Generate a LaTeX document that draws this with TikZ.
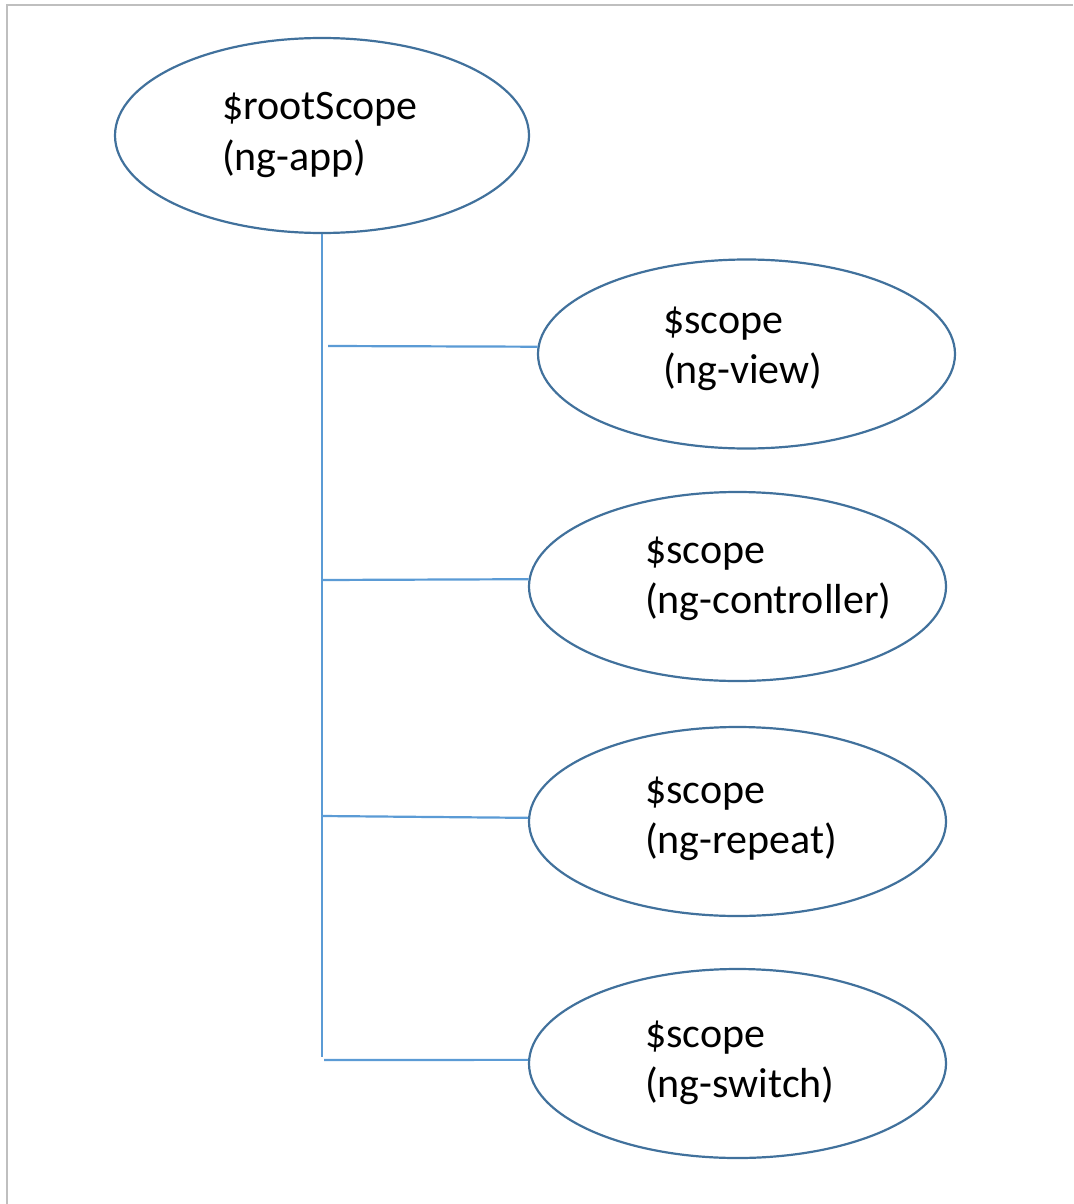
\documentclass[tikz,border=0pt]{standalone}
\usepackage{fontspec}
\setmainfont{Carlito}
\usetikzlibrary{shapes.geometric}
\definecolor{ellline}{HTML}{41719C}
\definecolor{conline}{HTML}{5B9BD5}
\definecolor{frameline}{HTML}{BFBFBF}
\tikzset{
  scopenode/.style={ellipse, draw=ellline, line width=2.2pt, inner sep=0pt,
    minimum width=417pt, minimum height=189pt},
  lbl/.style={anchor=base west, inner sep=0pt, font=\fontsize{42}{50}\selectfont},
  conn/.style={draw=conline, line width=2.2pt}
}
\begin{document}
\begin{tikzpicture}[x=1pt, y=-1pt]
\useasboundingbox (0,0) rectangle (1073,1204);
% frame on the top and left edges
\draw[frameline, line width=2pt] (7,1204) -- (7,5) -- (1073,5);

% scopes
\node[scopenode, minimum width=414pt, minimum height=195pt] (root) at (322,135.5) {};
\node[scopenode] (view) at (746.5,354) {};
\node[scopenode] (ctrl) at (737.5,586.5) {};
\node[scopenode] (rep) at (737.5,821.5) {};
\node[scopenode] (sw) at (737.5,1063.5) {};

% labels
\node[lbl] (t0a) at (222,120) {\$rootScope};
\node[lbl] (t0b) at (222,170) {(ng-app)};
\node[lbl] (t1a) at (663,333) {\$scope};
\node[lbl] (t1b) at (663,383) {(ng-view)};
\node[lbl] (t2a) at (645,563) {\$scope};
\node[lbl] (t2b) at (645,613) {(ng-controller)};
\node[lbl] (t3a) at (645,803) {\$scope};
\node[lbl] (t3b) at (645,853) {(ng-repeat)};
\node[lbl] (t4a) at (645,1047) {\$scope};
\node[lbl] (t4b) at (645,1097) {(ng-switch)};

% tree connectors
\coordinate (trunkend) at (322,1057);
\coordinate (j1) at (328,346);
\coordinate (j2) at (322,580);
\coordinate (j3) at (322,816);
\coordinate (j4) at (324,1060);
\draw[conn] (root.south) -- (trunkend);
\draw[conn] (j1) -- (view.178.3);
\draw[conn] (j2) -- (ctrl.178.8);
\draw[conn] (j3) -- (rep.179);
\draw[conn] (j4) -- (sw.179.6);
\end{tikzpicture}
\end{document}
